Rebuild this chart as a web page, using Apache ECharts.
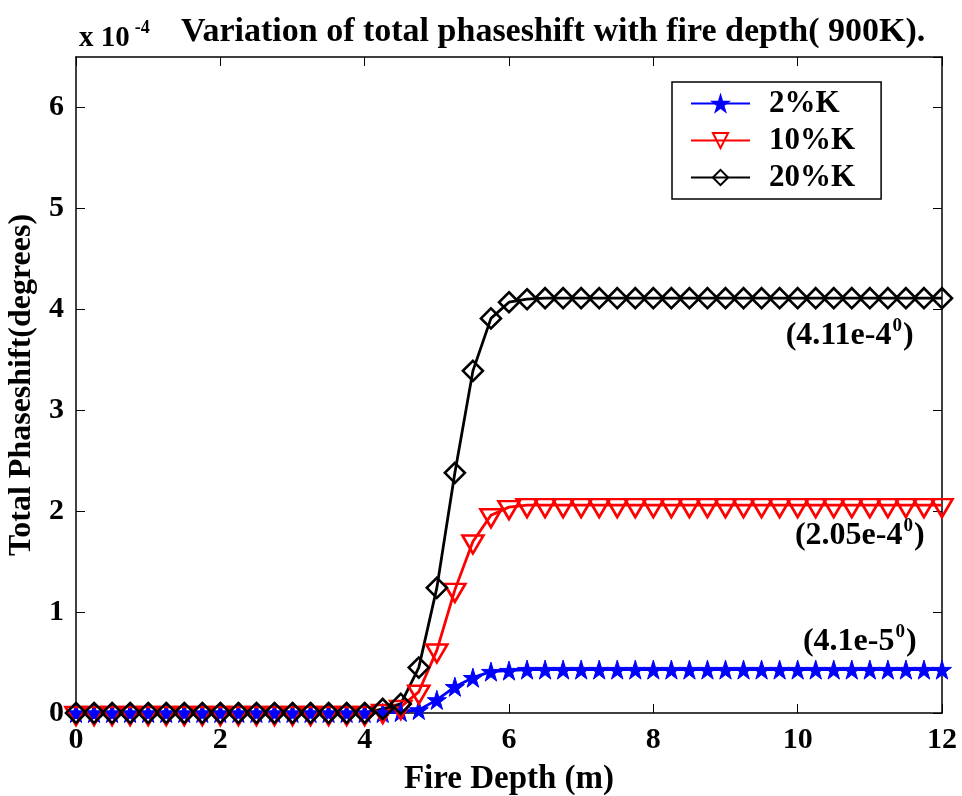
<!DOCTYPE html>
<html>
<head>
<meta charset="UTF-8">
<title>Total phaseshift vs fire depth</title>
<script src="https://cdn.jsdelivr.net/npm/echarts@6/dist/echarts.min.js"></script>
</head>
<body style="margin:0;background:#fff;">
<div id="container" style="width:962px;height:796px;"></div>
<script>
// fire depth (m)
var depth = [0, 0.25, 0.5, 0.75, 1, 1.25, 1.5, 1.75, 2, 2.25, 2.5, 2.75, 3, 3.25, 3.5, 3.75,
  4, 4.25, 4.5, 4.75, 5, 5.25, 5.5, 5.75, 6, 6.25, 6.5, 6.75, 7, 7.25, 7.5, 7.75,
  8, 8.25, 8.5, 8.75, 9, 9.25, 9.5, 9.75, 10, 10.25, 10.5, 10.75, 11, 11.25, 11.5, 11.75, 12];

// total phaseshift, x 1e-4 degrees
var k2 = [0, 0, 0, 0, 0, 0, 0, 0, 0, 0, 0, 0, 0, 0, 0, 0,
  0, 0, 0.01, 0.03, 0.13, 0.26, 0.35, 0.41, 0.42, 0.43, 0.43, 0.43, 0.43, 0.43, 0.43, 0.43,
  0.43, 0.43, 0.43, 0.43, 0.43, 0.43, 0.43, 0.43, 0.43, 0.43, 0.43, 0.43, 0.43, 0.43, 0.43, 0.43, 0.43];
var k10 = [0, 0, 0, 0, 0, 0, 0, 0, 0, 0, 0, 0, 0, 0, 0, 0,
  0, 0.02, 0.06, 0.21, 0.62, 1.22, 1.70, 1.96, 2.04, 2.06, 2.06, 2.06, 2.06, 2.06, 2.06, 2.06,
  2.06, 2.06, 2.06, 2.06, 2.06, 2.06, 2.06, 2.06, 2.06, 2.06, 2.06, 2.06, 2.06, 2.06, 2.06, 2.06, 2.06];
var k20 = [0, 0, 0, 0, 0, 0, 0, 0, 0, 0, 0, 0, 0, 0, 0, 0,
  0, 0.04, 0.09, 0.45, 1.24, 2.38, 3.39, 3.91, 4.07, 4.10, 4.11, 4.11, 4.11, 4.11, 4.11, 4.11,
  4.11, 4.11, 4.11, 4.11, 4.11, 4.11, 4.11, 4.11, 4.11, 4.11, 4.11, 4.11, 4.11, 4.11, 4.11, 4.11, 4.11];

var seriesNames = ['2%K', '10%K', '20%K'];
// end value notes and where they sit (data coords)
var notes = [
  { text: '(4.1e-5', at: [10.86, 0.71] },
  { text: '(2.05e-4', at: [10.86, 1.76] },
  { text: '(4.11e-4', at: [10.72, 3.74] }
];

var FONT = 'Liberation Serif';
var starPath = 'path://M50,0 L61,35 L98,35 L68,57 L79,91 L50,70 L21,91 L32,57 L2,35 L39,35 Z';

function pairs(ys) {
  return depth.map(function (x, i) { return [x, ys[i]]; });
}

function noteMark(n) {
  return {
    symbol: 'circle',
    symbolSize: 1,
    silent: true,
    itemStyle: { color: 'rgba(0,0,0,0)' },
    label: {
      show: true,
      position: 'inside',
      formatter: '{m|' + n.text + '}{s|0}{m|)}',
      rich: {
        m: { fontFamily: FONT, fontWeight: 'bold', fontSize: 32, color: '#000' },
        s: { fontFamily: FONT, fontWeight: 'bold', fontSize: 19, verticalAlign: 'top', color: '#000', padding: [0, 1, 18, 1] }
      }
    },
    data: [{ coord: n.at }]
  };
}

var dom = document.getElementById('container');
var myChart = echarts.init(dom, null, { renderer: 'canvas' });

var tickStyle = { inside: true, length: 9, lineStyle: { color: '#000', width: 1 } };
var lineStyleAx = { onZero: false, lineStyle: { color: '#000', width: 1.5 } };

var option = {
  animation: false,
  backgroundColor: '#fff',
  title: [
    {
      text: '{n|x 10}{s|-4}',
      left: 74, top: 14,
      textStyle: {
        rich: {
          n: { fontFamily: FONT, fontWeight: 'bold', fontSize: 29, color: '#000' },
          s: { fontFamily: FONT, fontWeight: 'bold', fontSize: 18, color: '#000', verticalAlign: 'top', padding: [0, 0, 22, 5] }
        }
      }
    },
    {
      text: 'Variation of total phaseshift with fire depth( 900K).',
      left: 176, top: 10,
      textStyle: { fontFamily: FONT, fontWeight: 'bold', fontSize: 34, color: '#000' }
    }
  ],
  legend: {
    orient: 'vertical',
    left: 672, top: 82,
    padding: [6, 26, 6, 18],
    itemGap: 6,
    itemWidth: 59,
    itemHeight: 19,
    borderColor: '#000',
    borderWidth: 1.5,
    backgroundColor: '#fff',
    textStyle: { fontFamily: FONT, fontWeight: 'bold', fontSize: 31, color: '#000', lineHeight: 30, padding: [0, 0, 0, 14] },
    data: seriesNames
  },
  grid: { left: 76, right: 20, top: 57, bottom: 83, outerBoundsMode: 'none' },
  xAxis: [
    {
      type: 'value', min: 0, max: 12, interval: 2,
      name: 'Fire Depth (m)', nameLocation: 'middle', nameGap: 50,
      nameTextStyle: { fontFamily: FONT, fontWeight: 'bold', fontSize: 33, color: '#000' },
      axisLine: lineStyleAx,
      axisTick: tickStyle,
      axisLabel: { fontFamily: FONT, fontWeight: 'bold', fontSize: 30, color: '#000', margin: 12 },
      splitLine: { show: false }
    },
    {
      type: 'value', min: 0, max: 12, interval: 2, position: 'top',
      axisLine: lineStyleAx,
      axisTick: tickStyle,
      axisLabel: { show: false },
      splitLine: { show: false }
    }
  ],
  yAxis: [
    {
      type: 'value', min: 0, max: 6.5, interval: 1,
      name: 'Total Phaseshift(degrees)', nameLocation: 'middle', nameGap: 36,
      nameTextStyle: { fontFamily: FONT, fontWeight: 'bold', fontSize: 32, color: '#000' },
      axisLine: Object.assign({ show: true }, lineStyleAx),
      axisTick: Object.assign({ show: true }, tickStyle),
      axisLabel: { fontFamily: FONT, fontWeight: 'bold', fontSize: 30, color: '#000', margin: 12, showMaxLabel: false },
      splitLine: { show: false }
    },
    {
      type: 'value', min: 0, max: 6.5, interval: 1, position: 'right',
      axisLine: Object.assign({ show: true }, lineStyleAx),
      axisTick: Object.assign({ show: true }, tickStyle),
      axisLabel: { show: false },
      splitLine: { show: false }
    }
  ],
  series: [
    {
      name: seriesNames[0], type: 'line', data: pairs(k2),
      symbol: starPath, symbolSize: 19, showAllSymbol: true,
      lineStyle: { color: '#0000ff', width: 2.8 },
      itemStyle: { color: '#0000ff', borderColor: '#0000ff', borderWidth: 1 },
      markPoint: noteMark(notes[0])
    },
    {
      name: seriesNames[1], type: 'line', data: pairs(k10),
      symbol: 'triangle', symbolRotate: 180, symbolSize: [21, 18], symbolOffset: [0, 3], showAllSymbol: true,
      lineStyle: { color: '#ff0000', width: 2.8 },
      itemStyle: { color: 'rgba(255,255,255,0)', borderColor: '#ff0000', borderWidth: 2.6 },
      markPoint: noteMark(notes[1])
    },
    {
      name: seriesNames[2], type: 'line', data: pairs(k20),
      symbol: 'diamond', symbolSize: [20, 20], showAllSymbol: true,
      lineStyle: { color: '#000000', width: 2.8 },
      itemStyle: { color: 'rgba(255,255,255,0)', borderColor: '#000000', borderWidth: 2.6 },
      markPoint: noteMark(notes[2])
    }
  ]
};

if (option && typeof option === 'object') {
  myChart.setOption(option);
}
</script>
</body>
</html>
